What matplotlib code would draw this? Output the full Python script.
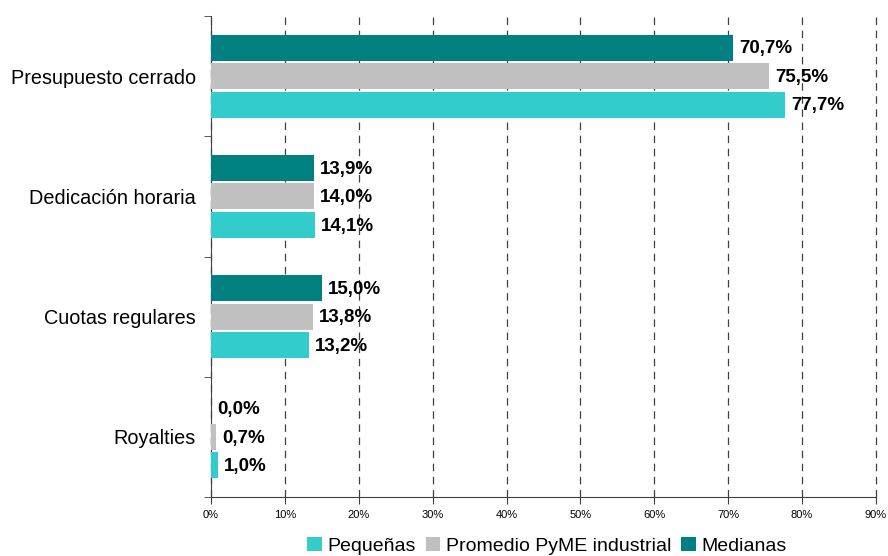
import numpy as np
import matplotlib.pyplot as plt

plt.rcParams['font.family'] = ['Liberation Sans', 'DejaVu Sans']

# --- data ---
categories = ['Presupuesto cerrado', 'Dedicación horaria', 'Cuotas regulares', 'Royalties']
series_names = ['Pequeñas', 'Promedio PyME industrial', 'Medianas']
pequenas = [77.7, 14.1, 13.2, 1.0]
promedio = [75.5, 14.0, 13.8, 0.7]
medianas = [70.7, 13.9, 15.0, 0.0]
colors = ['#33CCCC', '#C0C0C0', '#008080']

fig = plt.figure(figsize=(8.88, 5.56), dpi=100)
ax = fig.add_axes([0.2376, 0.1061, 0.7489, 0.8651])

centers = np.arange(len(categories))[::-1] + 0.5
step = 0.237
height = 0.218
offsets = [step, 0, -step]   # Pequeñas bottom, Medianas top

for vals, name, col, off in zip([pequenas, promedio, medianas], series_names, colors, offsets):
    ypos = centers - off
    ax.barh(ypos, vals, height=height, color=col, label=name, zorder=3)
    for y, v in zip(ypos, vals):
        ax.text(v + 0.8, y - 0.01, f"{v:.1f}%".replace('.', ','), va='center', ha='left',
                fontsize=13.5, fontweight='bold', zorder=4)

ax.set_xlim(0, 90)
ax.set_ylim(0, len(categories))
ax.set_xticks(np.arange(0, 91, 10))
ax.set_xticklabels([f"{t}%" for t in range(0, 91, 10)], fontsize=8)
ax.xaxis.grid(True, linestyle=(0, (6, 4.5)), color='#404040', linewidth=0.9, zorder=0)
for gl in ax.get_xgridlines():
    gl.set_clip_on(False)

ax.set_yticks(centers)
ax.set_yticklabels(categories, fontsize=14.3)
ax.set_yticks(np.arange(0, len(categories) + 1), minor=True)
ax.tick_params(axis='y', which='major', length=0, pad=11)
ax.tick_params(axis='y', which='minor', length=5, color='#404040')
ax.tick_params(axis='x', length=5, color='#404040', pad=4)

for s in ['top', 'right']:
    ax.spines[s].set_visible(False)
ax.spines['left'].set_color('#404040')
ax.spines['bottom'].set_color('#404040')

fig.legend(*ax.get_legend_handles_labels(), loc='center', bbox_to_anchor=(0.616, 0.018),
           ncol=3, frameon=False, fontsize=14, handlelength=0.75, handleheight=0.75,
           handletextpad=0.3, columnspacing=0.5, borderaxespad=0, borderpad=0)

fig.savefig('out.png', dpi=100)
